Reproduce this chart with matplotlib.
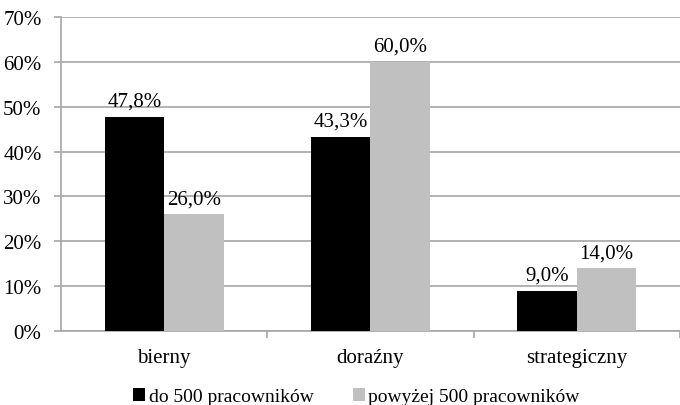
import matplotlib
matplotlib.use("Agg")
import matplotlib.pyplot as plt
import numpy as np
from matplotlib.patches import Patch

categories = ["bierny", "doraźny", "strategiczny"]
series_names = ["do 500 pracowników", "powyżej 500 pracowników"]
small = [47.8, 43.3, 9.0]
large = [26.0, 60.0, 14.0]
yticks = [0, 10, 20, 30, 40, 50, 60, 70]

plt.rcParams['font.family'] = ['Liberation Serif', 'DejaVu Serif']
fs = 15

fig = plt.figure(figsize=(6.8, 4.06), dpi=100)
ax = fig.add_axes([0.0897, 0.182, 0.91, 0.774])

x = np.arange(len(categories))
w = 0.288
grid_c = '#a6a6a6'
b1 = ax.bar(x - w/2, small, w, color='black', zorder=3)
b2 = ax.bar(x + w/2, large, w, color='#c0c0c0', zorder=3)

for bars, vals in ((b1, small), (b2, large)):
    for b, v in zip(bars, vals):
        ax.text(b.get_x() + b.get_width()/2, v + 1.3, f"{v:.1f}%".replace('.', ','),
                ha='center', va='bottom', fontsize=fs)

ax.set_xlim(-0.5, 2.5)
ax.set_ylim(0, 70)
ax.set_yticks(yticks)
ax.set_yticklabels([f"{t}%" for t in yticks], fontsize=fs)
ax.yaxis.grid(True, color=grid_c, linewidth=1.2, zorder=0)
ax.set_axisbelow(True)

ax.set_xticks(x)
ax.set_xticklabels(categories, fontsize=fs)
ax.tick_params(axis='x', length=0, pad=12)
ax.set_xticks([0.5, 1.5, 2.5], minor=True)
ax.tick_params(axis='x', which='minor', length=5, color=grid_c, width=1.2)
ax.tick_params(axis='y', length=5, color=grid_c, width=1.2, pad=9)

for s in ('top', 'right'):
    ax.spines[s].set_visible(False)
for s in ('left', 'bottom'):
    ax.spines[s].set_color(grid_c)
    ax.spines[s].set_linewidth(1.2)

handles = [Patch(facecolor='black'), Patch(facecolor='#c0c0c0')]
fig.legend(handles, series_names, loc='lower center', bbox_to_anchor=(0.524, -0.02),
           borderaxespad=0, ncol=2, frameon=False, fontsize=14,
           handlelength=0.62, handleheight=0.62,
           handletextpad=0.2, columnspacing=2.0)

fig.savefig("out.png", dpi=100)
